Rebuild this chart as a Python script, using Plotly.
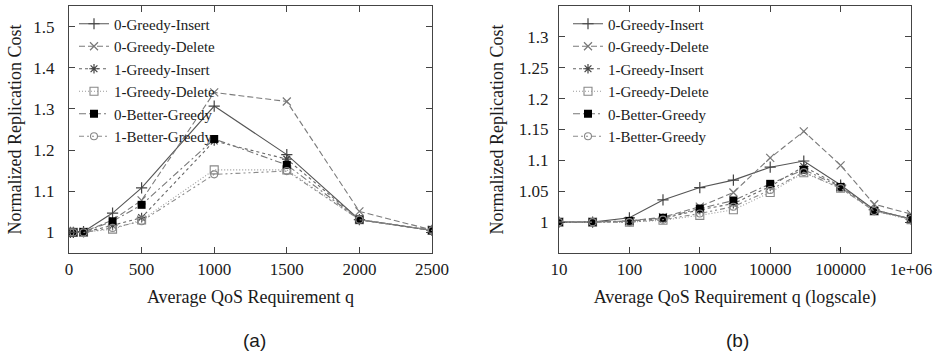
import plotly.graph_objects as go

# ---------------- data ----------------
series_names = ["0-Greedy-Insert", "0-Greedy-Delete", "1-Greedy-Insert",
                "1-Greedy-Delete", "0-Better-Greedy", "1-Better-Greedy"]

q_linear = [10, 30, 100, 300, 500, 1000, 1500, 2000, 2500]
linear_0_greedy_insert = [1.0, 1.0, 1.002, 1.047, 1.108, 1.307, 1.189, 1.031, 1.005]
linear_0_greedy_delete = [1.0, 1.0, 1.001, 1.030, 1.078, 1.340, 1.318, 1.051, 1.006]
linear_1_greedy_insert = [1.0, 1.0, 1.000, 1.017, 1.036, 1.222, 1.178, 1.031, 1.005]
linear_1_greedy_delete = [1.0, 1.0, 1.000, 1.008, 1.030, 1.152, 1.152, 1.031, 1.005]
linear_0_better_greedy = [1.0, 1.0, 1.001, 1.027, 1.067, 1.227, 1.164, 1.031, 1.005]
linear_1_better_greedy = [1.0, 1.0, 1.000, 1.011, 1.027, 1.141, 1.149, 1.031, 1.005]

q_log = [10, 30, 100, 300, 1000, 3000, 10000, 30000, 100000, 300000, 1000000]
log_0_greedy_insert = [1.0, 1.0, 1.007, 1.036, 1.056, 1.068, 1.089, 1.099, 1.060, 1.020, 1.005]
log_0_greedy_delete = [1.0, 1.0, 1.002, 1.008, 1.025, 1.048, 1.104, 1.147, 1.092, 1.029, 1.013]
log_1_greedy_insert = [1.0, 1.0, 1.001, 1.006, 1.020, 1.030, 1.058, 1.090, 1.058, 1.020, 1.005]
log_1_greedy_delete = [1.0, 1.0, 1.000, 1.003, 1.011, 1.020, 1.048, 1.080, 1.055, 1.018, 1.004]
log_0_better_greedy = [1.0, 1.0, 1.002, 1.007, 1.022, 1.035, 1.062, 1.085, 1.057, 1.018, 1.006]
log_1_better_greedy = [1.0, 1.0, 1.000, 1.004, 1.014, 1.025, 1.052, 1.081, 1.055, 1.018, 1.005]

x1_tickvals = [0, 500, 1000, 1500, 2000, 2500]
x1_ticktext = ["0", "500", "1000", "1500", "2000", "2500"]
y1_tickvals = [1.0, 1.1, 1.2, 1.3, 1.4, 1.5]
y1_ticktext = ["1", "1.1", "1.2", "1.3", "1.4", "1.5"]
x2_tickvals = [10, 100, 1000, 10000, 100000, 1000000]
x2_ticktext = ["10", "100", "1000", "10000", "100000", "1e+06"]
y2_tickvals = [1.0, 1.05, 1.1, 1.15, 1.2, 1.25, 1.3]
y2_ticktext = ["1", "1.05", "1.1", "1.15", "1.2", "1.25", "1.3"]

linear_values = [linear_0_greedy_insert, linear_0_greedy_delete, linear_1_greedy_insert,
                 linear_1_greedy_delete, linear_0_better_greedy, linear_1_better_greedy]
log_values = [log_0_greedy_insert, log_0_greedy_delete, log_1_greedy_insert,
              log_1_greedy_delete, log_0_better_greedy, log_1_better_greedy]

# ---------------- styles ----------------
styles = [
    dict(line=dict(color="#555555", width=1.1, dash="solid"),
         marker=dict(symbol="cross-thin", size=8, color="#444444", line=dict(color="#444444", width=1.2))),
    dict(line=dict(color="#7a7a7a", width=1.1, dash="6px,3px"),
         marker=dict(symbol="x-thin", size=8, color="#777777", line=dict(color="#777777", width=1.2))),
    dict(line=dict(color="#666666", width=1.1, dash="3px,3px"),
         marker=dict(symbol="asterisk", size=8, color="#444444", line=dict(color="#444444", width=1.2))),
    dict(line=dict(color="#9a9a9a", width=1.1, dash="1px,2px"),
         marker=dict(symbol="square-open", size=8, color="#888888", line=dict(color="#888888", width=1.1))),
    dict(line=dict(color="#777777", width=1.1, dash="7px,3px,2px,3px"),
         marker=dict(symbol="square", size=8, color="#000000", line=dict(color="#000000", width=0))),
    dict(line=dict(color="#8a8a8a", width=1.1, dash="5px,3px,2px,3px,2px,3px"),
         marker=dict(symbol="circle-open", size=7, color="#888888", line=dict(color="#888888", width=1.1))),
]

FONT = "Liberation Serif"
TXT = "#1a1a1a"

fig = go.Figure()
for name, vals, st in zip(series_names, linear_values, styles):
    fig.add_trace(go.Scatter(x=q_linear, y=vals, name=name, mode="lines+markers",
                             line=st["line"], marker=st["marker"],
                             xaxis="x", yaxis="y", legend="legend"))
for name, vals, st in zip(series_names, log_values, styles):
    fig.add_trace(go.Scatter(x=q_log, y=vals, name=name, mode="lines+markers",
                             line=st["line"], marker=st["marker"],
                             xaxis="x2", yaxis="y2", legend="legend2"))

axis_common = dict(showline=True, linecolor="#444444", linewidth=1.2, mirror="ticks",
                   ticks="inside", ticklen=6, tickcolor="#444444", tickwidth=1,
                   showgrid=False, zeroline=False, automargin=False,
                   tickfont=dict(family=FONT, size=17, color=TXT))
title_font = dict(family=FONT, size=18, color=TXT)

legend_common = dict(font=dict(family=FONT, size=15, color=TXT), bgcolor="rgba(0,0,0,0)",
                     borderwidth=0, yanchor="top", xanchor="left", itemwidth=30,
                     tracegroupgap=0)

fig.update_layout(
    width=935, height=356,
    margin=dict(l=0, r=0, t=6, b=103, autoexpand=False),
    paper_bgcolor="white", plot_bgcolor="white",
    font=dict(family=FONT, color=TXT),
    xaxis=dict(domain=[69/935, 432/935], range=[0, 2500], anchor="y",
               tickvals=x1_tickvals, ticktext=x1_ticktext, ticklabelstandoff=0,
               title=dict(text="Average QoS Requirement q", font=title_font, standoff=12),
               **axis_common),
    yaxis=dict(domain=[0, 1], range=[0.95, 1.55], anchor="x",
               tickvals=y1_tickvals, ticktext=y1_ticktext, ticklabelstandoff=10,
               title=dict(text="Normalized Replication Cost", font=title_font, standoff=6),
               **axis_common),
    xaxis2=dict(domain=[559/935, 911/935], type="log", range=[1, 6], anchor="y2",
                tickvals=x2_tickvals, ticktext=x2_ticktext, ticklabelstandoff=0,
                title=dict(text="Average QoS Requirement q (logscale)", font=title_font, standoff=12),
                **axis_common),
    yaxis2=dict(domain=[0, 1], range=[0.95, 1.35], anchor="x2",
                tickvals=y2_tickvals, ticktext=y2_ticktext, ticklabelstandoff=6,
                title=dict(text="Normalized Replication Cost", font=title_font, standoff=10),
                **axis_common),
    legend=dict(x=74/935, y=0.994, **legend_common),
    legend2=dict(x=568/935, y=0.994, **legend_common),
    showlegend=True,
    annotations=[
        dict(text="(a)", xref="paper", yref="paper", x=255/935, y=-87/247, showarrow=False,
             font=dict(family="Liberation Sans", size=19, color=TXT), xanchor="center", yanchor="middle"),
        dict(text="(b)", xref="paper", yref="paper", x=737/935, y=-87/247, showarrow=False,
             font=dict(family="Liberation Sans", size=19, color=TXT), xanchor="center", yanchor="middle"),
    ],
)

fig.write_html("out.html", config={"displayModeBar": False},
               post_script="document.body.style.margin='0';document.body.style.overflow='hidden';")
